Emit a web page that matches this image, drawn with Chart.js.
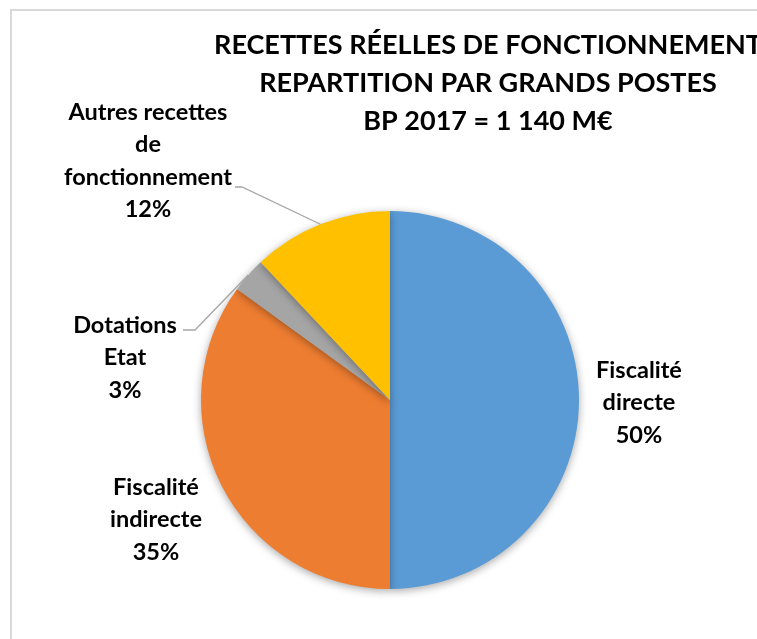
<!DOCTYPE html>
<html>
<head>
<meta charset="utf-8">
<title>Recettes réelles de fonctionnement</title>
<script src="https://cdn.jsdelivr.net/npm/chart.js"></script>
<style>
    html, body { margin: 0; padding: 0; background: #fff; }
    #wrap { width: 757px; height: 639px; position: relative; overflow: hidden; }
</style>
</head>
<body>
<div id="wrap"><canvas id="pie" width="757" height="639"></canvas></div>
<script>
// data
var categories = ['Fiscalité directe', 'Fiscalité indirecte', 'Dotations Etat', 'Autres recettes de fonctionnement'];
var labelLines = [['Fiscalité', 'directe'], ['Fiscalité', 'indirecte'], ['Dotations', 'Etat'], ['Autres recettes', 'de', 'fonctionnement']];
var shares = [50, 35, 3, 12];
var titleLines = ['RECETTES RÉELLES DE FONCTIONNEMENT', 'REPARTITION PAR GRANDS POSTES', 'BP 2017 = 1 140 M€'];

var colors = ['#5B9BD5', '#ED7D31', '#A5A5A5', '#FFC000'];
var FONT = 'Lato, "Open Sans", sans-serif';

// label centres (first line) and leader lines, layout only
var labelBox = [
    { x: 639, y: 370 },
    { x: 156, y: 487 },
    { x: 125, y: 325 },
    { x: 148, y: 112 }
];
var leaders = [null, null,
    [[183, 330], [195, 330]],
    [[235, 187], [242, 187]]
];

var frame = {
    id: 'frame',
    beforeDraw: function (chart) {
        var ctx = chart.ctx;
        ctx.save();
        ctx.strokeStyle = '#D9D9D9';
        ctx.lineWidth = 2;
        ctx.strokeRect(11, 10, 800, 700);
        ctx.restore();
    },
    beforeDatasetsDraw: function (chart) {
        var ctx = chart.ctx;
        ctx.save();
        ctx.shadowColor = 'rgba(0,0,0,0.35)';
        ctx.shadowBlur = 9;
        ctx.shadowOffsetY = 2;
    },
    afterDatasetsDraw: function (chart) {
        chart.ctx.restore();
    },
    afterDraw: function (chart) {
        var ctx = chart.ctx;
        ctx.save();
        ctx.fillStyle = '#000';
        ctx.textAlign = 'center';
        ctx.textBaseline = 'middle';
        ctx.font = 'bold 27px ' + FONT;
        titleLines.forEach(function (t, i) {
            ctx.fillText(t, 488, 45 + i * 38);
        });

        var meta = chart.getDatasetMeta(0);
        var total = shares.reduce(function (a, b) { return a + b; }, 0);
        ctx.font = 'bold 23.5px ' + FONT;
        meta.data.forEach(function (arc, i) {
            var lines = labelLines[i].concat([Math.round(shares[i] / total * 100) + '%']);
            var b = labelBox[i];
            lines.forEach(function (l, j) {
                ctx.fillText(l, b.x, b.y + j * 32.5);
            });
            if (leaders[i]) {
                // leader goes to the outer middle of the slice
                var p = arc.getProps(['x', 'y', 'startAngle', 'endAngle', 'outerRadius'], true);
                var a = (p.startAngle + p.endAngle) / 2;
                var ex = p.x + Math.cos(a) * p.outerRadius;
                var ey = p.y + Math.sin(a) * p.outerRadius;
                ctx.strokeStyle = '#A6A6A6';
                ctx.lineWidth = 1.3;
                ctx.beginPath();
                ctx.moveTo(leaders[i][0][0], leaders[i][0][1]);
                ctx.lineTo(leaders[i][1][0], leaders[i][1][1]);
                ctx.lineTo(ex, ey);
                ctx.stroke();
            }
        });
        ctx.restore();
    }
};

new Chart(document.getElementById('pie'), {
    type: 'pie',
    data: {
        labels: categories,
        datasets: [{
            data: shares,
            backgroundColor: colors,
            borderWidth: 0
        }]
    },
    options: {
        responsive: false,
        animation: false,
        layout: { padding: { left: 201, right: 178, top: 211, bottom: 50 } },
        plugins: {
            legend: { display: false },
            title: { display: false },
            tooltip: { enabled: false }
        }
    },
    plugins: [frame]
});
</script>
</body>
</html>
